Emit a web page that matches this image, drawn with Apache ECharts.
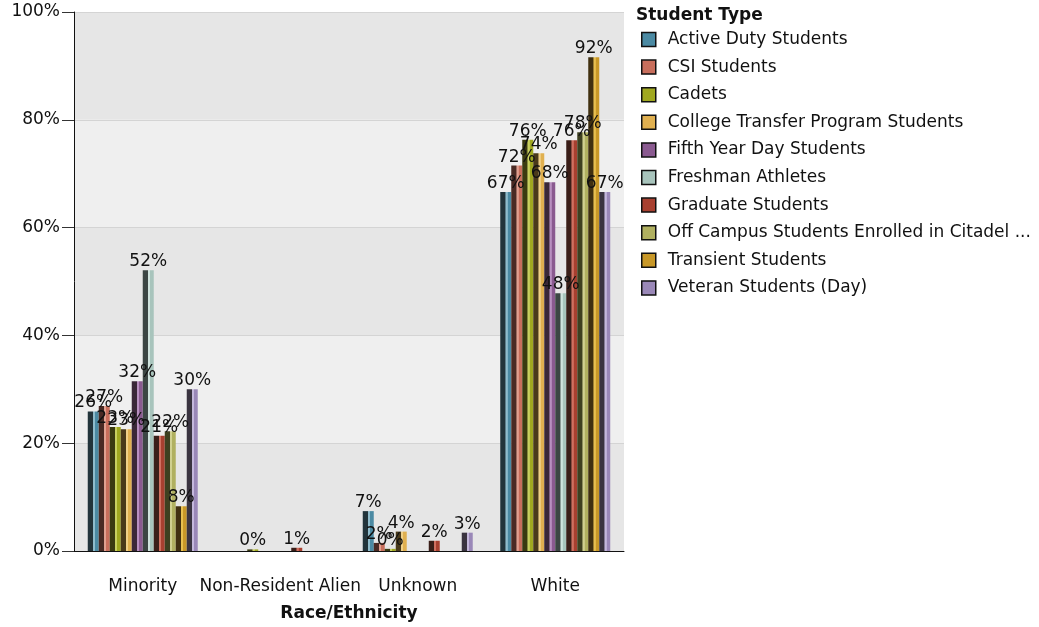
<!DOCTYPE html>
<html><head><meta charset="utf-8">
<script src="https://cdn.jsdelivr.net/npm/echarts@6/dist/echarts.min.js"></script>
<style>html,body{margin:0;padding:0;background:#fff}#c{width:1039px;height:627px}</style>
</head><body><div id="c"></div>
<script>
const categories = ['Minority', 'Non-Resident Alien', 'Unknown', 'White'];
const seriesNames = ['Active Duty Students','CSI Students','Cadets','College Transfer Program Students','Fifth Year Day Students','Freshman Athletes','Graduate Students','Off Campus Students Enrolled in Citadel ...','Transient Students','Veteran Students (Day)'];
const activeDuty = [25.9, null, 7.4, 66.6];
const csi = [26.9, null, 1.5, 71.5];
const cadets = [23.0, 0.3, 0.4, 76.3];
const collegeTransfer = [22.6, null, 3.6, 73.8];
const fifthYear = [31.5, null, null, 68.4];
const freshmanAthletes = [52.1, null, null, 47.8];
const graduate = [21.4, 0.6, 1.9, 76.2];
const offCampus = [22.2, null, null, 77.7];
const transient = [8.3, null, null, 91.6];
const veteran = [30.0, null, 3.4, 66.6];
const seriesData = [activeDuty, csi, cadets, collegeTransfer, fifthYear, freshmanAthletes, graduate, offCampus, transient, veteran];
const yTicks = [0, 20, 40, 60, 80, 100];

const palette = [
  ['#4b8aa3','#8fbccc','#22343b'],
  ['#c86e5c','#e0a090','#4a2a24'],
  ['#a0a820','#c8d060','#3a3a10'],
  ['#e0b050','#f0d088','#4a3a1a'],
  ['#8a5a90','#b890c0','#3a2838'],
  ['#a8c4bc','#d0e4de','#3c4644'],
  ['#a84030','#d07060','#3a1e18'],
  ['#b0b060','#d0d090','#3e4020'],
  ['#c89828','#e8c050','#403010'],
  ['#9a88b8','#c4b8dc','#3a3440']
];

const chart = echarts.init(document.getElementById('c'), null, {renderer:'canvas'});
const FONT = 'DejaVu Sans';
const FS = 17;
const series = seriesNames.map((name, i) => ({
  name, type: 'bar', data: seriesData[i],
  barGap: '0%', barCategoryGap: '20%',
  itemStyle: {
    color: new echarts.graphic.LinearGradient(0,0,1,0,[
      {offset:0,color:palette[i][2]},{offset:0.45,color:palette[i][2]},
      {offset:0.5,color:palette[i][1]},{offset:0.65,color:palette[i][1]},
      {offset:0.7,color:palette[i][0]},{offset:1,color:palette[i][0]}])
  },
  label: {
    show: true, position: 'top', distance: 0,
    fontFamily: FONT, fontSize: FS, color: '#111',
    formatter: p => (p.value == null ? '' : Math.round(p.value) + '%')
  },
  animation: false
}));

chart.setOption({
  animation: false,
  textStyle: {fontFamily: FONT},
  grid: {left: 74, right: 415, top: 12, bottom: 75},
  title: {text: 'Student Type', left: 631, top: 2, textStyle: {fontFamily: FONT, fontSize: FS, fontWeight: 'bold', color: '#111'}},
  legend: {
    orient: 'vertical', left: 641, top: 31, padding: 0, itemGap: 10.6, itemWidth: 14, itemHeight: 14,
    icon: 'rect',
    textStyle: {fontFamily: FONT, fontSize: FS, color: '#111', padding: [0,0,0,7]},
    data: seriesNames.map((n, i) => ({name: n, itemStyle: {color: palette[i][0], borderColor: '#111', borderWidth: 1.5}}))
  },
  xAxis: {
    type: 'category', data: categories,
    axisLine: {lineStyle: {color: '#111', width: 1}},
    axisTick: {alignWithLabel: true, length: 7, lineStyle: {color: '#666'}},
    axisLabel: {fontFamily: FONT, fontSize: FS, color: '#111', margin: 27, interval: 0},
    name: 'Race/Ethnicity', nameLocation: 'middle', nameGap: 54,
    nameTextStyle: {fontFamily: FONT, fontSize: FS, fontWeight: 'bold', color: '#111'}
  },
  yAxis: {
    type: 'value', min: yTicks[0], max: yTicks[yTicks.length-1], interval: 20,
    axisLine: {show: true, lineStyle: {color: '#111'}},
    axisTick: {show: true, length: 12, lineStyle: {color: '#333'}},
    axisLabel: {fontFamily: FONT, fontSize: FS, color: '#111', formatter: '{value}%', margin: 14, padding: [8,0,0,0]},
    splitLine: {show: true, lineStyle: {color: '#d4d4d4'}},
    splitArea: {show: true, areaStyle: {color: ['#e6e6e6', '#efefef']}}
  },
  series
});
</script></body></html>
